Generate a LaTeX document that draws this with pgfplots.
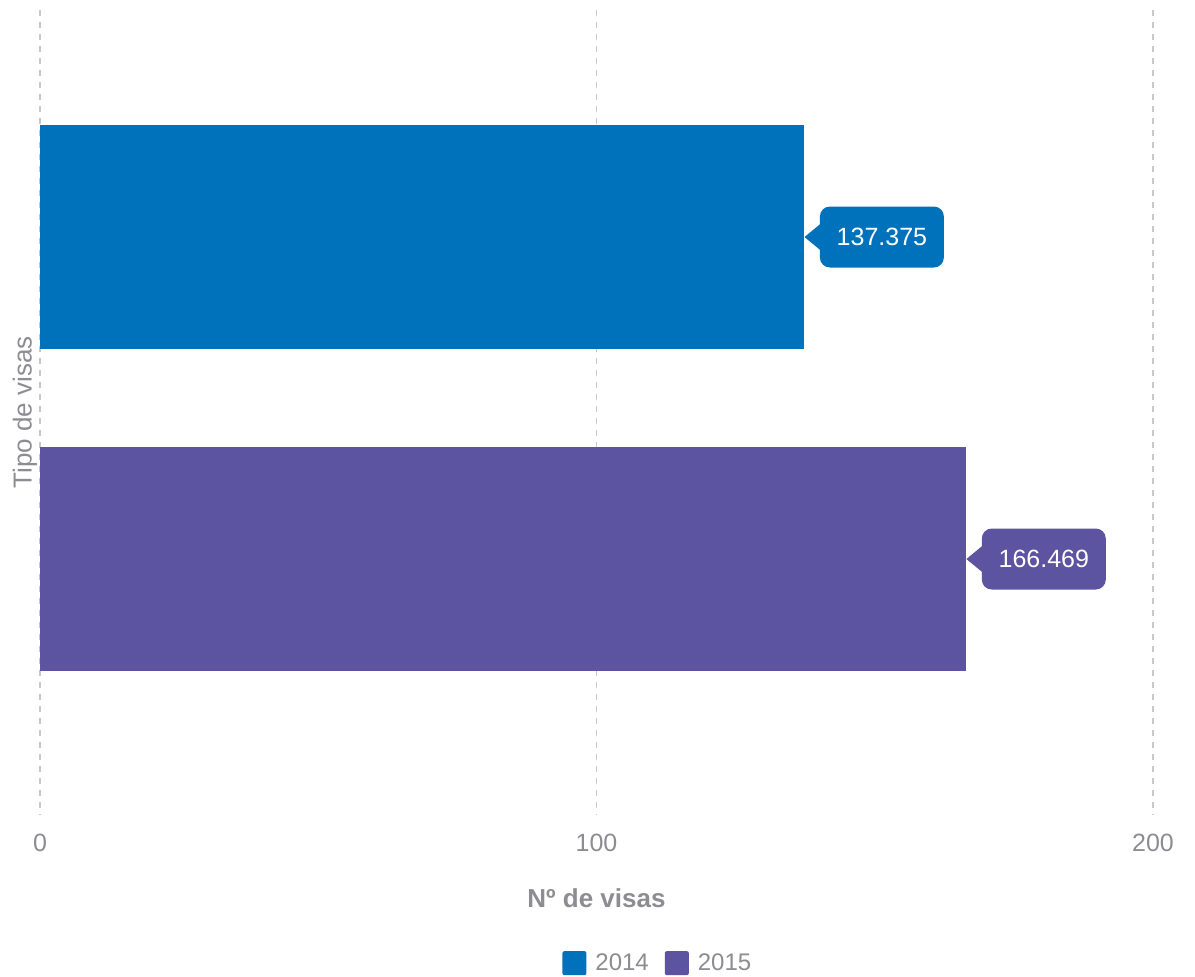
\documentclass[border=0pt]{standalone}
\usepackage{fontspec}
\setmainfont{Liberation Sans}
\usepackage{pgfplots}
\pgfplotsset{compat=1.18}
\definecolor{c2014}{RGB}{0,114,187}
\definecolor{c2015}{RGB}{92,83,161}
\definecolor{txtgray}{RGB}{140,140,146}
\definecolor{gridgray}{RGB}{200,200,200}
\tikzset{
    valuebox/.style={anchor=west, xshift=7.5pt, fill=#1, text=white,
        minimum width=62pt, minimum height=30.5pt, inner sep=0pt, rounded corners=5pt,
        font=\fontsize{12.5}{14}\selectfont,
        append after command={\pgfextra{\fill[#1, sharp corners] ([xshift=1pt]\tikzlastnode.west) -- ++(0pt,7pt) -- ++(-8.5pt,-7pt) -- ++(8.5pt,-7pt) -- cycle;}}},
}
\begin{document}
\begin{tikzpicture}
\path[use as bounding box] (-20pt,-80.5pt) rectangle (577.5pt,407.5pt);
\begin{axis}[
    xbar,
    legend image code/.code={\fill[#1,rounded corners=1pt] (0pt,-6pt) rectangle (12pt,6pt);},
    scale only axis,
    width=556.5pt, height=402.5pt,
    at={(0,0)}, anchor=south west,
    xmin=0, xmax=200,
    ymin=-0.705, ymax=1.795,
    y dir=reverse,
    bar width=0.696, bar shift=0pt,
    xtick={0,100,200}, ytick=\empty,
    xmajorgrids,
    grid style={gridgray, dash pattern=on 3pt off 3pt, line width=0.6pt},
    axis line style={draw=none},
    tick style={draw=none},
    clip=false,
    /pgf/number format/assume math mode=true,
    xticklabel style={font=\fontsize{12.5}{14}\selectfont, text=txtgray, anchor=center, yshift=-14pt},
    xlabel={Nº de visas},
    xlabel style={at={(axis description cs:0.5,-0.103)}, anchor=center, font=\fontsize{13}{15}\selectfont\bfseries, text=txtgray},
    ylabel={Tipo de visas},
    ylabel style={at={(axis description cs:-0.0135,0.5)}, anchor=center, font=\fontsize{13}{15}\selectfont, text=txtgray},
    point meta=explicit symbolic,
    nodes near coords={\pgfplotspointmeta},
    legend columns=2,
    legend style={at={(axis description cs:0.556,-0.184)}, anchor=center, draw=none,
        font=\fontsize{12}{14}\selectfont, text=txtgray,
        /tikz/every odd column/.append style={column sep=2.5pt},
        /tikz/every even column/.append style={column sep=6pt}},
]
\addplot[fill=c2014, draw=none, every node near coord/.style={valuebox=c2014}]
    coordinates {(137.375,0) [137.375]};
\addplot[fill=c2015, draw=none, every node near coord/.style={valuebox=c2015}]
    coordinates {(166.469,1) [166.469]};
\legend{2014,2015}
\end{axis}
\end{tikzpicture}
\end{document}
